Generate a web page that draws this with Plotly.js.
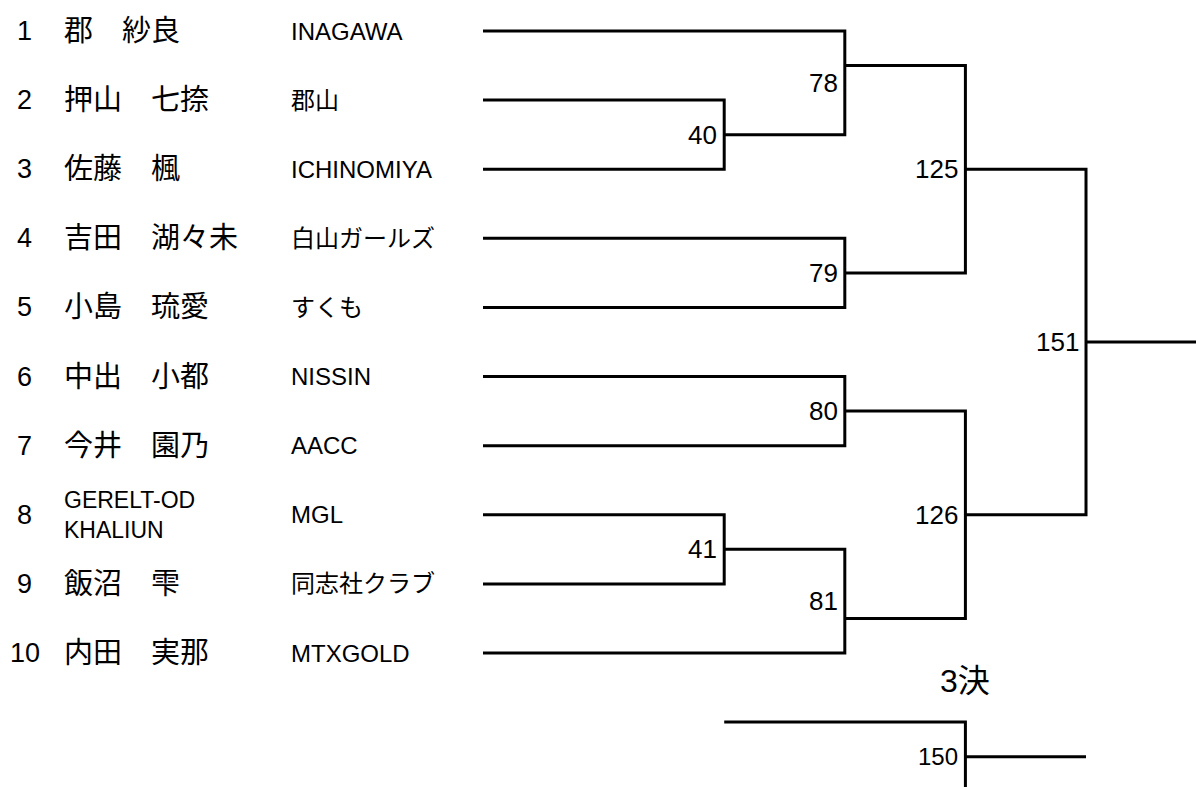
<!DOCTYPE html>
<html><head><meta charset="utf-8">
<script src="https://cdn.plot.ly/plotly-3.0.1.min.js"></script>
<style>html,body{margin:0;padding:0;background:#fff;overflow:hidden;}</style>
</head><body><div id="chart" style="width:1196px;height:787px;"></div>
<script>
// ---- data ----
const seeds   = ["1","2","3","4","5","6","7","8","9","10"];
const players = ["郡　紗良","押山　七捺","佐藤　楓","吉田　湖々未","小島　琉愛","中出　小都","今井　園乃","GERELT-OD<br>KHALIUN","飯沼　雫","内田　実那"];
const clubs   = ["INAGAWA","郡山","ICHINOMIYA","白山ガールズ","すくも","NISSIN","AACC","MGL","同志社クラブ","MTXGOLD"];
const matchNo    = [40, 41, 78, 79, 80, 81, 125, 126, 151, 150];
const matchRound = [1, 1, 2, 2, 2, 2, 3, 3, 4, 3];
const sideA      = ["p1","p7","p0","p3","p5","m41","m78","m80","m125","t0"];
const sideB      = ["p2","p8","m40","p4","p6","p9","m79","m81","m126","t1"];
const thirdPlaceTitle = "3決";

// ---- layout constants ----
const rowThird = {t0: 10, t1: 11};      // rows of the 3rd-place slots
const startThird = 2;                   // column where 3rd-place slot lines begin
const outOverride = {78: 0.5, 81: 8.5}; // rows of out-lines that are not centred
const colOf = r => r + 1;

const numFont = "Liberation Sans, Arial, Noto Sans CJK JP, sans-serif";
const idx = {};
matchNo.forEach((n, i) => idx["m" + n] = i);
const outY = {};
const parentOf = {};
matchNo.forEach((n, i) => { parentOf[sideA[i]] = i; parentOf[sideB[i]] = i; });

function sideRow(s) {
  if (s[0] === "p") return +s.slice(1);
  if (s[0] === "t") return rowThird[s];
  return outY[s];
}
function sideStart(s) {
  if (s[0] === "p") return 0;
  if (s[0] === "t") return startThird;
  return colOf(matchRound[idx[s]]);
}
const order = matchNo.map((n, i) => i).sort((a, b) => matchRound[a] - matchRound[b]);
const labelY = {};
order.forEach(i => {
  const ya = sideRow(sideA[i]), yb = sideRow(sideB[i]);
  labelY[i] = (ya + yb) / 2;
  const n = matchNo[i];
  outY["m" + n] = (n in outOverride) ? outOverride[n] : (ya + yb) / 2;
});

const lx = [], ly = [];
order.forEach(i => {
  const c = colOf(matchRound[i]);
  const ya = sideRow(sideA[i]), yb = sideRow(sideB[i]);
  lx.push(sideStart(sideA[i]), c, c, sideStart(sideB[i]), null);
  ly.push(ya, ya, yb, yb, null);
  const key = "m" + matchNo[i];
  if (!(key in parentOf)) {
    lx.push(c, c + 1, null);
    ly.push(outY[key], outY[key], null);
  }
});

const traces = [{
  type: "scatter", mode: "lines", x: lx, y: ly,
  line: {color: "#000", width: 3}, hoverinfo: "skip", showlegend: false
}];

const ann = [];
seeds.forEach((s, i) => ann.push({x: -3.798, y: i, xref: "x", yref: "y", text: s, showarrow: false,
  xanchor: "center", yanchor: "middle", font: {family: numFont, size: 27, color: "#000"}}));
players.forEach((p, i) => {
  const latin = /^[A-Z]/.test(p);
  ann.push({x: -3.49, y: i, xref: "x", yref: "y", text: p, showarrow: false, align: "left",
    xanchor: "left", yanchor: "middle", font: {family: numFont, size: latin ? 23 : 29, color: "#000"}});
});
clubs.forEach((c, i) => ann.push({x: -1.605, y: i, xref: "x", yref: "y", text: c, showarrow: false,
  xanchor: "left", yanchor: "middle", font: {family: numFont, size: 24, color: "#000"}}));
matchNo.forEach((n, i) => ann.push({x: colOf(matchRound[i]), y: labelY[i], xref: "x", yref: "y",
  text: String(n), showarrow: false, xanchor: "right", yanchor: "middle", xshift: -5,
  font: {family: numFont, size: n === 150 ? 24 : 26, color: "#000"}}));
ann.push({x: colOf(matchRound[idx["m150"]]), y: 9.4, xref: "x", yref: "y", text: thirdPlaceTitle,
  showarrow: false, xanchor: "center", yanchor: "middle", font: {family: numFont, size: 32, color: "#000"}});

const layout = {
  width: 1196, height: 787,
  margin: {l: 0, r: 0, t: 0, b: 0, pad: 0},
  paper_bgcolor: "#fff", plot_bgcolor: "#fff",
  xaxis: {range: [-4.005, 5.912], visible: false, fixedrange: true},
  yaxis: {range: [10.939, -0.4486], visible: false, fixedrange: true},
  annotations: ann, showlegend: false
};
Plotly.newPlot("chart", traces, layout, {displayModeBar: false, staticPlot: true});
</script></body></html>
